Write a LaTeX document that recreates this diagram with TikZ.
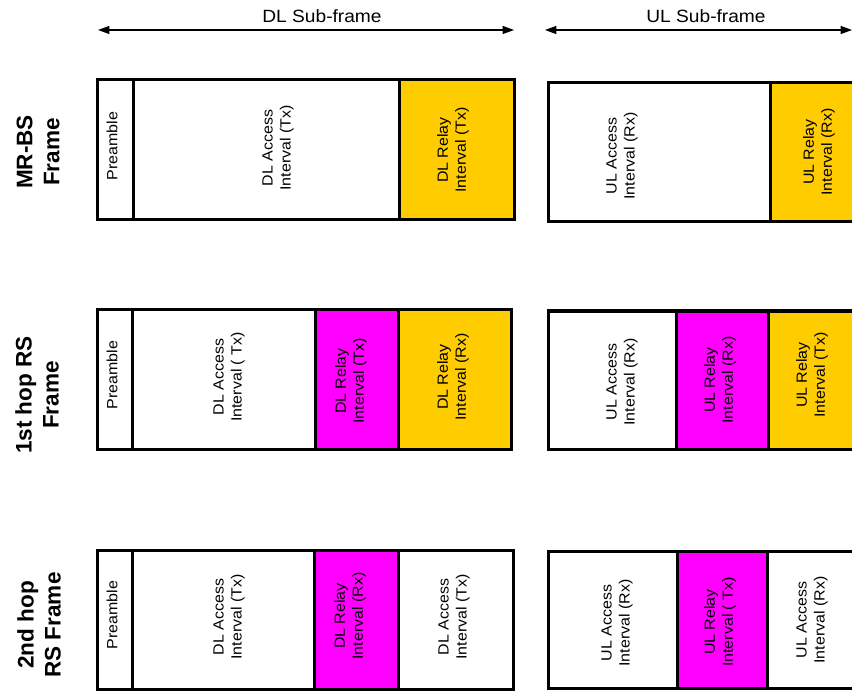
\documentclass[tikz,border=0pt]{standalone}
\usepackage{fontspec}
\setmainfont{Liberation Sans}
\newfontfamily\cellfont{Liberation Sans}[FakeStretch=1.08]
\usetikzlibrary{arrows.meta}
\definecolor{relayyellow}{HTML}{FFCC00}
\definecolor{relaymag}{HTML}{FF00FF}
\begin{document}
\begin{tikzpicture}[x=0.75pt,y=-0.75pt,
  cell/.style={draw=black,line width=2.25pt},
  celltext/.style={rotate=90,align=center,font=\cellfont\fontsize{11.1}{13.5}\selectfont,inner sep=0pt},
  rowlabel/.style={rotate=90,align=center,font=\bfseries\fontsize{16.9}{20.25}\selectfont,inner sep=0pt},
  subframe/.style={font=\cellfont\fontsize{13.3}{16}\selectfont,anchor=base,inner sep=0pt},
  span/.style={line width=0.8pt,{Triangle[length=8.5pt,width=6pt]}-{Triangle[length=8.5pt,width=6pt]}}
]
\useasboundingbox (0,0) rectangle (852,691);

% sub-frame spans
\coordinate (dlL) at (98,30);
\coordinate (dlR) at (514,30);
\coordinate (ulL) at (545,30);
\coordinate (ulR) at (852,30);
\draw[span] (dlL) -- (dlR);
\draw[span] (ulL) -- (ulR);
\node[subframe] (dlsub) at (322,22.5) {DL Sub-frame};
\node[subframe] (ulsub) at (706,22.5) {UL Sub-frame};

% row labels
\node[rowlabel] (lab1) at (38,152) {MR-BS\\Frame};
\node[rowlabel] (lab2) at (37,395) {1st hop RS\\Frame};
\node[rowlabel] (lab3) at (39,625) {2nd hop\\RS Frame};

% ---- Row 1: MR-BS frame
\path[cell,fill=white] (97,80) rectangle (133,220);
\path[cell,fill=white] (133,80) rectangle (399,220);
\path[cell,fill=relayyellow] (399,80) rectangle (514,220);
\path[cell,fill=white] (548,83) rectangle (770,222);
\path[cell,fill=relayyellow] (770,83) rectangle (862,222);

\node[celltext] (r1pre) at (112,146) {Preamble};
\node[celltext] (r1dla) at (278,148) {DL Access\\Interval (Tx)};
\node[celltext] (r1dlr) at (453,150) {DL Relay\\Interval (Tx)};
\node[celltext] (r1ula) at (622,156) {UL Access\\Interval (Rx)};
\node[celltext] (r1ulr) at (819,152) {UL Relay\\Interval (Rx)};

% ---- Row 2: 1st hop RS frame
\path[cell,fill=white] (97,310) rectangle (132,449);
\path[cell,fill=white] (132,310) rectangle (315,449);
\path[cell,fill=relaymag] (315,310) rectangle (398,449);
\path[cell,fill=relayyellow] (398,310) rectangle (511,449);
\path[cell,fill=white] (548,311) rectangle (676,449);
\path[cell,fill=relaymag] (676,311) rectangle (768,449);
\path[cell,fill=relayyellow] (768,311) rectangle (862,449);

\node[celltext] (r2pre) at (112,375) {Preamble};
\node[celltext] (r2dla) at (229,377) {DL Access\\Interval ( Tx)};
\node[celltext] (r2dlr) at (351,381) {DL Relay\\Interval (Tx)};
\node[celltext] (r2dly) at (453,377) {DL Relay\\Interval (Rx)};
\node[celltext] (r2ula) at (622,382) {UL Access\\Interval (Rx)};
\node[celltext] (r2ulr) at (720,380) {UL Relay\\Interval (Rx)};
\node[celltext] (r2uly) at (812,375) {UL Relay\\Interval (Tx)};

% ---- Row 3: 2nd hop RS frame
\path[cell,fill=white] (97,550) rectangle (132,689);
\path[cell,fill=white] (132,550) rectangle (314,689);
\path[cell,fill=relaymag] (314,550) rectangle (398,689);
\path[cell,fill=white] (398,550) rectangle (513,689);
\path[cell,fill=white] (548,551) rectangle (677,688);
\path[cell,fill=relaymag] (677,551) rectangle (767,688);
\path[cell,fill=white] (767,551) rectangle (862,688);

\node[celltext] (r3pre) at (112,615) {Preamble};
\node[celltext] (r3dla) at (229,617) {DL Access\\Interval (Tx)};
\node[celltext] (r3dlr) at (350,616) {DL Relay\\Interval (Rx)};
\node[celltext] (r3dlb) at (454,617) {DL Access\\Interval (Tx)};
\node[celltext] (r3ula) at (617,623) {UL Access\\Interval (Rx)};
\node[celltext] (r3ulr) at (720,622) {UL Relay\\Interval ( Tx)};
\node[celltext] (r3ulb) at (812,620) {UL Access\\Interval (Rx)};
\end{tikzpicture}
\end{document}
